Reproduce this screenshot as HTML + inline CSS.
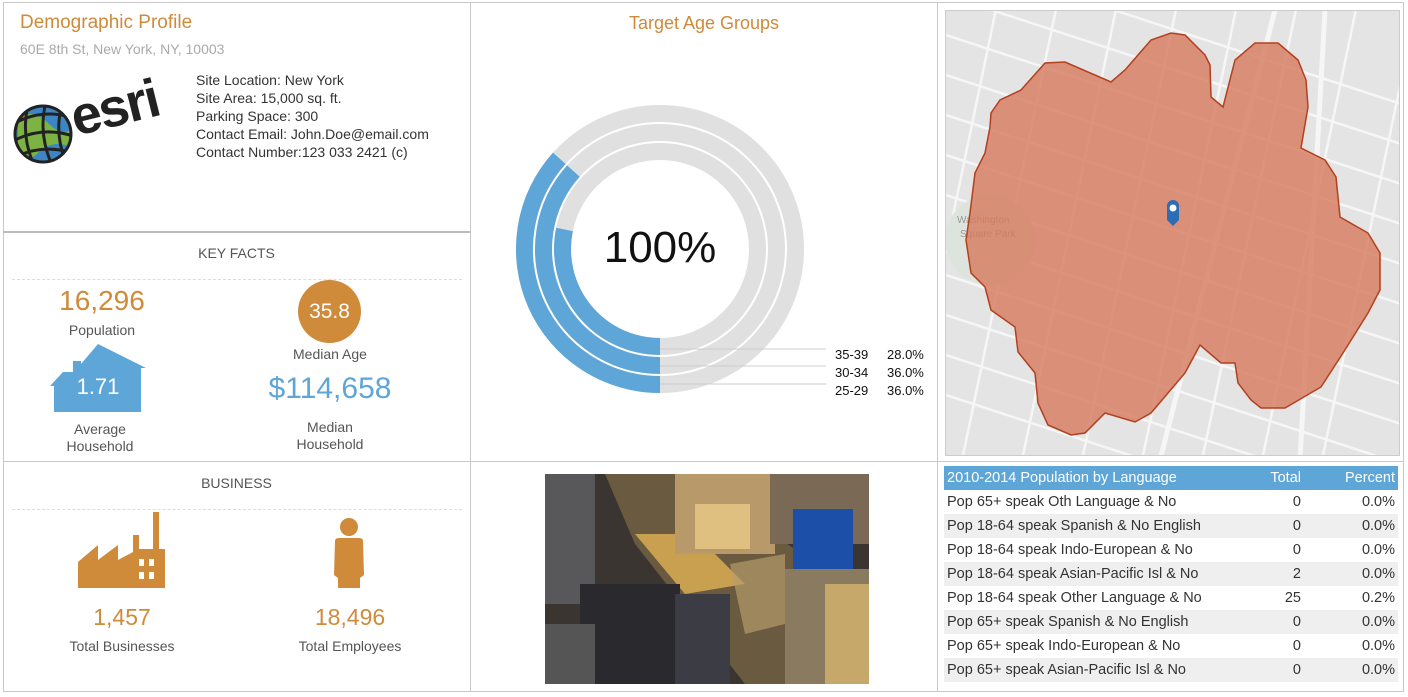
<!DOCTYPE html>
<html><head><meta charset="utf-8"><style>
*{margin:0;padding:0;box-sizing:border-box}
body{width:1408px;height:697px;background:#fff;position:relative;overflow:hidden;font-family:"Liberation Sans",sans-serif;color:#333}
.a{position:absolute}
.ln{position:absolute;background:#c8c8c8}
.c{text-align:center}
.or{color:#cf8a3a}
.bl{color:#5ea6d8}
.g{color:#555}
table{border-collapse:collapse;width:454px;font-size:14.5px}
td{height:24px;padding:0 3px;white-space:nowrap;overflow:hidden}
</style></head><body>
<div class="ln" style="left:3px;top:2px;width:1401px;height:1px"></div>
<div class="ln" style="left:3px;top:2px;width:1px;height:690px"></div>
<div class="ln" style="left:3px;top:691px;width:1401px;height:1px"></div>
<div class="ln" style="left:1403px;top:2px;width:1px;height:690px"></div>
<div class="ln" style="left:470px;top:2px;width:1px;height:690px"></div>
<div class="ln" style="left:937px;top:2px;width:1px;height:690px"></div>
<div class="ln" style="left:3px;top:231px;width:467px;height:2px;background:#bbb"></div>
<div class="ln" style="left:3px;top:461px;width:1401px;height:1px"></div>

<div class="a or" style="left:20px;top:12px;font-size:19px">Demographic Profile</div>
<div class="a" style="left:20px;top:41px;font-size:14px;color:#aaa">60E 8th St, New York, NY, 10003</div>
<svg class="a" style="left:0;top:60px" width="190" height="110">
<defs><clipPath id="gc"><circle cx="43" cy="74" r="27"/></clipPath></defs>
<circle cx="43" cy="74" r="28" fill="#3d86c6"/>
<g clip-path="url(#gc)">
<path d="M18 58 Q33 48 48 63 T73 68 L73 88 Q53 78 38 93 T18 88Z" fill="#7cb342"/>
<g stroke="#222" stroke-width="3" fill="none">
<path d="M15 63 Q43 48 73 58"/><path d="M15 80 Q43 66 73 76"/><path d="M18 96 Q43 84 73 93"/>
<path d="M28 46 Q21 74 33 103"/><path d="M45 46 Q39 74 51 103"/><path d="M61 48 Q55 74 65 100"/></g></g>
<circle cx="43" cy="74" r="28" fill="none" stroke="#222" stroke-width="3"/>
<text x="76" y="76" font-size="54" font-weight="bold" fill="#222" transform="rotate(-14 76 76)" font-family="Liberation Sans" letter-spacing="-2">esri</text>
</svg>
<div class="a" style="left:196px;top:71px;font-size:14px;line-height:18px;color:#333">Site Location: New York<br>Site Area: 15,000 sq. ft.<br>Parking Space: 300<br>Contact Email: John.Doe@email.com<br>Contact Number:123 033 2421 (c)</div>

<div class="a c g" style="left:3px;width:467px;top:245px;font-size:14px">KEY FACTS</div>
<div class="a" style="left:12px;top:279px;width:450px;border-top:1px dashed #ddd"></div>
<div class="a c or" style="left:32px;width:140px;top:285px;font-size:28px">16,296</div>
<div class="a c g" style="left:32px;width:140px;top:322px;font-size:14px">Population</div>
<svg class="a" style="left:48px;top:344px" width="100" height="70"><path d="M2 42 L15 28 L25 28 L25 17 L33 17 L33 20 L50 0 L98 24 L93 24 L93 68 L6 68 L6 42Z" fill="#5ea6d8"/></svg>
<div class="a c" style="left:48px;width:100px;top:374px;font-size:22px;color:#fff">1.71</div>
<div class="a c g" style="left:40px;width:120px;top:421px;font-size:14px;line-height:17px">Average<br>Household</div>
<div class="a c" style="left:298px;top:280px;width:63px;height:63px;border-radius:50%;background:#cf8a3a;color:#fff;font-size:21px;line-height:63px">35.8</div>
<div class="a c g" style="left:260px;width:140px;top:346px;font-size:14px">Median Age</div>
<div class="a c bl" style="left:240px;width:180px;top:372px;font-size:30px">$114,658</div>
<div class="a c g" style="left:260px;width:140px;top:419px;font-size:14px;line-height:17px">Median<br>Household</div>

<div class="a c g" style="left:3px;width:467px;top:475px;font-size:14px">BUSINESS</div>
<div class="a" style="left:12px;top:509px;width:450px;border-top:1px dashed #ddd"></div>
<svg class="a" style="left:78px;top:512px" width="90" height="76"><path d="M0 50 L20 33 L20 48 L40 33 L40 48 L55 40 L55 23 L61 23 L61 37 L75 37 L75 0 L81 0 L81 37 L87 37 L87 76 L0 76Z" fill="#cf8a3a"/>
<g fill="#fff"><rect x="61" y="47" width="5" height="7"/><rect x="71" y="47" width="5" height="7"/><rect x="61" y="60" width="5" height="7"/><rect x="71" y="60" width="5" height="7"/></g></svg>
<svg class="a" style="left:327px;top:517px" width="44" height="72"><circle cx="22" cy="10" r="9" fill="#cf8a3a"/><path d="M8 24 Q8 21 12 21 L32 21 Q36 21 36 24 L37 58 L33 61 L33 71 L11 71 L11 61 L7 58Z" fill="#cf8a3a"/></svg>
<div class="a c or" style="left:52px;width:140px;top:604px;font-size:23px">1,457</div>
<div class="a c g" style="left:42px;width:160px;top:638px;font-size:14px">Total Businesses</div>
<div class="a c or" style="left:280px;width:140px;top:604px;font-size:23px">18,496</div>
<div class="a c g" style="left:270px;width:160px;top:638px;font-size:14px">Total Employees</div>

<div class="a c or" style="left:471px;width:466px;top:13px;font-size:18px">Target Age Groups</div>
<svg class="a" style="left:471px;top:0" width="466" height="460">
<g fill="none" stroke-width="17">
<circle cx="189" cy="249" r="135.5" stroke="#e0e0e0"/>
<circle cx="189" cy="249" r="116.5" stroke="#e0e0e0"/>
<circle cx="189" cy="249" r="97.5" stroke="#e0e0e0"/>
<path d="M189 384.5 A135.5 135.5 0 0 1 88.3 158.3" stroke="#5ea6d8"/>
<path d="M189 365.5 A116.5 116.5 0 0 1 102.4 171.1" stroke="#5ea6d8"/>
<path d="M189 346.5 A97.5 97.5 0 0 1 93.5 229.4" stroke="#5ea6d8"/>
</g>
<g stroke="#ccc" stroke-width="1"><line x1="189" y1="349" x2="355" y2="349"/><line x1="189" y1="366" x2="355" y2="366"/><line x1="189" y1="384" x2="355" y2="384"/></g>
<text x="189" y="262" font-size="44" text-anchor="middle" fill="#111" font-family="Liberation Sans">100%</text>
<g font-size="13" fill="#111" font-family="Liberation Sans">
<text x="364" y="359">35-39</text><text x="416" y="359">28.0%</text>
<text x="364" y="377">30-34</text><text x="416" y="377">36.0%</text>
<text x="364" y="395">25-29</text><text x="416" y="395">36.0%</text></g>
</svg>

<svg class="a" style="left:945px;top:10px" width="455" height="446">
<g transform="translate(-945 -10)">
<rect x="945" y="10" width="455" height="446" fill="#e4e4e5"/>
<g stroke="#f6f6f6" stroke-width="2.5">
<line x1="900" y1="20" x2="1450" y2="200"/><line x1="900" y1="60" x2="1450" y2="240"/><line x1="900" y1="100" x2="1450" y2="280"/>
<line x1="900" y1="140" x2="1450" y2="320"/><line x1="900" y1="180" x2="1450" y2="360"/><line x1="900" y1="220" x2="1450" y2="400"/>
<line x1="900" y1="260" x2="1450" y2="440"/><line x1="900" y1="300" x2="1450" y2="480"/><line x1="900" y1="340" x2="1450" y2="520"/>
<line x1="900" y1="380" x2="1450" y2="560"/><line x1="900" y1="-20" x2="1450" y2="160"/><line x1="900" y1="-60" x2="1450" y2="120"/>
<line x1="1000" y1="-10" x2="900" y2="470"/><line x1="1060" y1="-10" x2="960" y2="470"/><line x1="1120" y1="-10" x2="1020" y2="470"/>
<line x1="1180" y1="-10" x2="1080" y2="470"/><line x1="1240" y1="-10" x2="1140" y2="470"/><line x1="1300" y1="-10" x2="1200" y2="470"/>
<line x1="1360" y1="-10" x2="1260" y2="470"/><line x1="1420" y1="-10" x2="1320" y2="470"/>
<line x1="1275" y1="10" x2="1160" y2="460" stroke-width="5"/><line x1="1325" y1="10" x2="1300" y2="460" stroke-width="5"/>
</g>
<circle cx="990" cy="240" r="45" fill="#dde4dd"/>
<text x="957" y="223" font-size="10" fill="#999">Washington</text><text x="960" y="237" font-size="10" fill="#999">Square Park</text>
<polygon points="991,113 1000,100 1021,90 1045,63 1065,62 1111,82 1125,70 1151,40 1171,33 1185,35 1205,55 1210,65 1211,97 1223,107 1235,60 1255,43 1278,43 1298,60 1306,80 1308,107 1301,148 1325,160 1336,177 1340,217 1368,233 1380,253 1380,290 1368,313 1343,353 1321,387 1285,408 1261,408 1251,400 1238,383 1235,363 1221,363 1200,345 1185,373 1151,413 1135,422 1105,413 1085,433 1071,435 1048,425 1038,403 1035,373 1018,352 1015,327 991,310 985,287 971,273 966,240 970,213 975,173 985,153 990,127" fill="#d6795c" fill-opacity="0.8" stroke="#b3401f" stroke-width="1.5"/>
<path d="M1173 200 a6 6 0 0 1 6 6 l0 14 l-6 6 l-6 -6 l0 -14 a6 6 0 0 1 6 -6Z" fill="#2d6db5"/><circle cx="1173" cy="208" r="3.5" fill="#fff"/>
</g></svg>
<div class="a" style="left:945px;top:10px;width:455px;height:446px;border:1px solid #ccc"></div>

<svg class="a" style="left:545px;top:474px" width="324" height="210">
<rect width="324" height="210" fill="#3a3530"/>
<polygon points="60,0 140,0 330,130 324,210 200,210 90,70" fill="#6a5a40"/>
<polygon points="90,60 150,60 200,110 140,120" fill="#c9a050"/>
<rect x="130" y="0" width="100" height="80" fill="#b89a6a"/>
<rect x="150" y="30" width="55" height="45" fill="#e0c080"/>
<rect x="225" y="0" width="100" height="70" fill="#7a6a55"/>
<rect x="0" y="0" width="50" height="130" fill="#58585a"/>
<rect x="35" y="110" width="100" height="100" fill="#2a2a2e"/>
<rect x="130" y="120" width="55" height="90" fill="#3c3c44"/>
<rect x="0" y="150" width="50" height="60" fill="#555"/>
<rect x="248" y="35" width="60" height="70" fill="#1b4fa8"/>
<rect x="240" y="95" width="84" height="115" fill="#8a7a60"/>
<rect x="280" y="110" width="44" height="100" fill="#c6a86a"/>
<polygon points="185,90 240,80 240,150 200,160" fill="#b59a6a" opacity="0.7"/>
</svg>

<div class="a" style="left:944px;top:466px">
<table>
<tr style="background:#5ea6d8;color:#fff;height:24px"><td style="width:290px">2010-2014 Population by Language</td><td style="text-align:right;width:70px">Total</td><td style="text-align:right">Percent</td></tr>
<tr><td>Pop 65+ speak Oth Language &amp; No</td><td style="text-align:right">0</td><td style="text-align:right">0.0%</td></tr>
<tr style="background:#efefef"><td>Pop 18-64 speak Spanish &amp; No English</td><td style="text-align:right">0</td><td style="text-align:right">0.0%</td></tr>
<tr><td>Pop 18-64 speak Indo-European &amp; No</td><td style="text-align:right">0</td><td style="text-align:right">0.0%</td></tr>
<tr style="background:#efefef"><td>Pop 18-64 speak Asian-Pacific Isl &amp; No</td><td style="text-align:right">2</td><td style="text-align:right">0.0%</td></tr>
<tr><td>Pop 18-64 speak Other Language &amp; No</td><td style="text-align:right">25</td><td style="text-align:right">0.2%</td></tr>
<tr style="background:#efefef"><td>Pop 65+ speak Spanish &amp; No English</td><td style="text-align:right">0</td><td style="text-align:right">0.0%</td></tr>
<tr><td>Pop 65+ speak Indo-European &amp; No</td><td style="text-align:right">0</td><td style="text-align:right">0.0%</td></tr>
<tr style="background:#efefef"><td>Pop 65+ speak Asian-Pacific Isl &amp; No</td><td style="text-align:right">0</td><td style="text-align:right">0.0%</td></tr>
</table></div>
</body></html>
